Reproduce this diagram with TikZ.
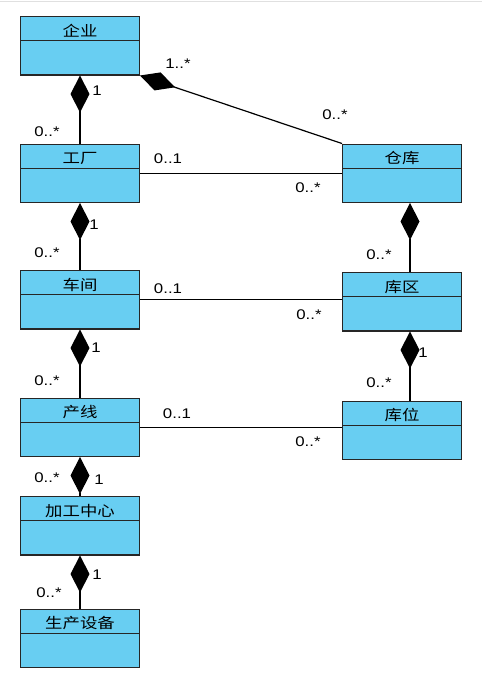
\documentclass[tikz,border=0pt]{standalone}
\usepackage{fontspec}
\setmainfont[FakeStretch=1.2]{Liberation Sans}
\newfontfamily\cjk[FakeStretch=1.2]{Noto Sans CJK SC}
\usetikzlibrary{positioning,arrows.meta}
\definecolor{classblue}{RGB}{104,206,242}
\tikzset{
    umlclass/.style = {
        draw = black!85,
        line width = 1.2pt,
        fill = classblue,
        minimum width = 118.8pt,
        inner xsep = 0pt,
        inner ysep = 6.5pt,
        text height = 13pt,
        text depth = 32.3pt,
        font = \cjk\fontsize{14.5}{14.5}\selectfont,
        path picture = {
            \draw[black!85, line width=1.2pt]
                ([yshift=-24pt]path picture bounding box.north west) --
                ([yshift=-24pt]path picture bounding box.north east);
            },
        },
    comp/.style = {
        draw = black,
        line width = 1.2pt,
        -{Diamond[length=37pt,width=19pt]},
        },
    assoc/.style = {
        draw = black,
        line width = 1.2pt,
        },
    mult/.style = {
        font = \fontsize{14}{14}\selectfont,
        inner sep = 0pt,
        },
}
\begin{document}
\begin{tikzpicture}[x=1pt,y=-1pt]
            \useasboundingbox (0,0) rectangle (482,678);
            \draw[black!12, line width=1pt] (0,1.5) -- (482,1.5);

            \node[umlclass, anchor=north] (qiye) at (80,16) {企业};
            \node[umlclass, below=68pt of qiye] (gongchang) {工厂};
            \node[umlclass, right=202pt of gongchang] (cangku) {仓库};
            \node[umlclass, below=67pt of gongchang] (chejian) {车间};
            \node[umlclass, below=69pt of cangku] (kuqu) {库区};
            \node[umlclass, below=68pt of chejian] (chanxian) {产线};
            \node[umlclass, below=69pt of kuqu] (kuwei) {库位};
            \node[umlclass, below=39pt of chanxian] (jiagong) {加工中心};
            \node[umlclass, below=53pt of jiagong] (shebei) {生产设备};

            % composition
            \path (gongchang) edge[comp] (qiye);
            \path (cangku.north west) edge[comp] (qiye.south east);
            \path (chejian) edge[comp] (gongchang);
            \path ([xshift=8pt]kuqu.north) edge[comp] ([xshift=8pt]cangku.south);
            \path (chanxian) edge[comp] (chejian);
            \path ([xshift=8pt]kuwei.north) edge[comp] ([xshift=8pt]kuqu.south);
            \path (jiagong) edge[comp] (chanxian);
            \path (shebei) edge[comp] (jiagong);

            % association
            \path (gongchang.east) edge[assoc] (gongchang.east -| cangku.west);
            \path (chejian.east) edge[assoc] (chejian.east -| kuqu.west);
            \path (chanxian.east) edge[assoc] (chanxian.east -| kuwei.west);

            % multiplicities
            \node[mult] (m1) at (178,64) {1..*};
            \node[mult] (m2) at (97,91) {1};
            \node[mult] (m3) at (47,132) {0..*};
            \node[mult] (m4) at (335,115) {0..*};
            \node[mult] (m5) at (168,159) {0..1};
            \node[mult] (m6) at (308,188) {0..*};
            \node[mult] (m7) at (94,225) {1};
            \node[mult] (m8) at (47,253) {0..*};
            \node[mult] (m9) at (379,255) {0..*};
            \node[mult] (m10) at (168,289) {0..1};
            \node[mult] (m11) at (309,315) {0..*};
            \node[mult] (m12) at (96,348) {1};
            \node[mult] (m13) at (47,381) {0..*};
            \node[mult] (m14) at (423,353) {1};
            \node[mult] (m15) at (379,383) {0..*};
            \node[mult] (m16) at (177,414) {0..1};
            \node[mult] (m17) at (308,442) {0..*};
            \node[mult] (m18) at (47,478) {0..*};
            \node[mult] (m19) at (99,480) {1};
            \node[mult] (m20) at (97,575) {1};
            \node[mult] (m21) at (49,593) {0..*};
        \end{tikzpicture}
\end{document}
